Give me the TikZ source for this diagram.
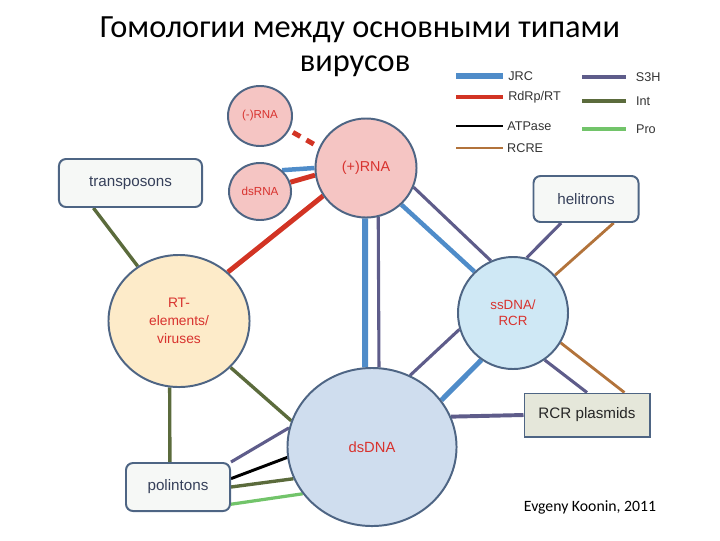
\documentclass[tikz,border=0pt]{standalone}
\usepackage{fontspec}
\setmainfont{Liberation Sans}
\newfontfamily\titlefont{Carlito}
\usetikzlibrary{shapes.geometric,backgrounds}

\definecolor{nodeline}{HTML}{4E6584}
\definecolor{pinkfill}{HTML}{F5C5C3}
\definecolor{rtfill}{HTML}{FDEBC9}
\definecolor{ssfill}{HTML}{CFE8F5}
\definecolor{dsfill}{HTML}{CFDDEE}
\definecolor{boxfill}{HTML}{F6F8F6}
\definecolor{rcrfill}{HTML}{E5E7DA}
\definecolor{labelred}{HTML}{D8322E}
\definecolor{boxtext}{HTML}{36405A}
\definecolor{jrcblue}{HTML}{4F8CC9}
\definecolor{rdrpred}{HTML}{D23424}
\definecolor{rcrebrown}{HTML}{B2733B}
\definecolor{shpurple}{HTML}{5E5C8A}
\definecolor{intolive}{HTML}{5B6B3C}
\definecolor{progreen}{HTML}{72C46A}

\begin{document}
\begin{tikzpicture}[x=0.025cm, y=-0.025cm,
	blob/.style={ellipse, draw=nodeline, line width=1.4pt, inner sep=0pt, text=labelred, align=center},
	box/.style={draw=nodeline, line width=1.4pt, rounded corners=5pt, fill=boxfill, text=boxtext, font=\fontsize{10.8}{13}\selectfont},
	jrc/.style={draw=jrcblue, line width=3.2pt},
	rdrp/.style={draw=rdrpred, line width=3.5pt},
	atp/.style={draw=black, line width=2.1pt},
	rcre/.style={draw=rcrebrown, line width=2pt},
	shel/.style={draw=shpurple, line width=2.2pt},
	integ/.style={draw=intolive, line width=2.4pt},
	prot/.style={draw=progreen, line width=2.3pt},
	legend/.style={anchor=west, inner sep=2pt, text=black!80, font=\fontsize{9}{10}\selectfont}]

	\useasboundingbox (0,0) rectangle (720,540);

	% title
	\node[anchor=base, font=\titlefont\fontsize{23}{24}\selectfont] (title1) at (360,37) {Гомологии между основными типами};
	\node[anchor=base, font=\titlefont\fontsize{23}{24}\selectfont] (title2) at (355,71) {вирусов};

	% legend
	\draw[jrc, line width=3.6pt] (456,76) -- (503,76) node[legend] {JRC};
	\draw[rdrp] (456,97) -- (503,97) node[legend] {RdRp/RT};
	\draw[atp] (456,126) -- (503,126) node[legend] {ATPase};
	\draw[rcre] (456,148) -- (503,148) node[legend] {RCRE};
	\draw[shel] (582,77) -- (626,77) node[legend, xshift=4pt] {S3H};
	\draw[integ] (582,101) -- (626,101) node[legend, xshift=4pt] {Int};
	\draw[prot] (582,129) -- (626,129) node[legend, xshift=4pt] {Pro};

	% nodes
	\node[blob, fill=pinkfill, minimum width=1.6cm, minimum height=1.5cm, font=\fontsize{8.2}{10}\selectfont] (mRNA) at (260,116) {(-)RNA};
	\node[blob, fill=pinkfill, minimum width=2.525cm, minimum height=2.475cm, font=\fontsize{10.2}{12}\selectfont] (pRNA) at (366,168) {(+)RNA};
	\node[blob, fill=pinkfill, minimum width=1.55cm, minimum height=1.425cm, font=\fontsize{8.3}{10}\selectfont] (dsRNA) at (260,191.5) {dsRNA};
	\node[blob, fill=rtfill, minimum width=3.525cm, minimum height=3.3cm, font=\fontsize{9.8}{12.9}\selectfont] (RT) at (179,321) {RT-\\elements/\\viruses};
	\node[blob, fill=ssfill, minimum width=2.75cm, minimum height=2.8cm, font=\fontsize{9.5}{11.4}\selectfont] (ssDNA) at (513,313) {ssDNA/\\RCR};
	\node[blob, fill=dsfill, minimum width=4.225cm, minimum height=3.95cm, font=\fontsize{10.5}{12}\selectfont] (dsDNA) at (372,447) {dsDNA};
	\node[box, minimum width=3.575cm, minimum height=1.2cm] (transposons) at (130.5,183) {transposons};
	\node[box, minimum width=2.625cm, minimum height=1.15cm] (helitrons) at (586,199) {helitrons};
	\node[box, minimum width=2.6cm, minimum height=1.2cm] (polintons) at (178,487) {polintons};
	\node[box, rounded corners=0pt, fill=rcrfill, text=black!85, minimum width=3.125cm, minimum height=1.075cm] (plasmids) at (587,415) {RCR plasmids};

	\node[anchor=base, font=\titlefont\fontsize{11.2}{12}\selectfont] (credit) at (590,511) {Evgeny Koonin, 2011};

	% connectors
	\begin{scope}[on background layer]
		\draw[rdrp, dash pattern=on 6pt off 5pt, shorten <=3pt] (mRNA.334) -- (pRNA.156);
		\draw[jrc] (dsRNA.44) -- (pRNA.180);
		\draw[rdrp] (dsRNA.17) -- (pRNA.188);
		\draw[rdrp] (pRNA.213) -- (RT.45);
		\draw[jrc, line width=4.3pt] (pRNA.269) -- (dsDNA.95.8);
		\draw[shel] (pRNA.284) -- (dsDNA.85.6);
		\draw[jrc] (pRNA.314) -- (ssDNA.133);
		\draw[shel] (pRNA.338) -- (ssDNA.113.5);
		\draw[shel] (ssDNA.76) -- (helitrons.224);
		\draw[rcre] (ssDNA.42) -- (helitrons.319.6);
		\draw[shel] (ssDNA.304) -- (plasmids.north);
		\draw[rcre] (ssDNA.328.5) -- (plasmids.31);
		\draw[shel] (ssDNA.197) -- (dsDNA.62.2);
		\draw[jrc, line width=3.6pt] (ssDNA.236.6) -- (dsDNA.34.6);
		\draw[shel, line width=2.8pt] (dsDNA.21.8) -- (plasmids.west);
		\draw[integ] (transposons.214) -- (RT.127.7);
		\draw[integ] (RT.318.4) -- (dsDNA.162.6);
		\draw[integ] (RT.262.2) -- (polintons.108.4);
		\draw[shel] (polintons.north east) -- (dsDNA.167);
		\draw[atp] (polintons.9.6) -- (dsDNA.187.5);
		\draw[integ] (polintons.east) -- (dsDNA.202);
		\draw[prot] (polintons.342) -- (dsDNA.214.3);
	\end{scope}
\end{tikzpicture}
\end{document}
